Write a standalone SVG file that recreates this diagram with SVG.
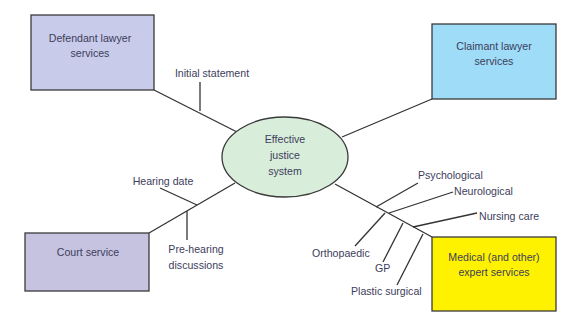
<svg xmlns="http://www.w3.org/2000/svg" width="570" height="322" viewBox="0 0 570 322">
<style>
.box{stroke:#3a3a3a;stroke-width:1.3}
.ln{stroke:#333;stroke-width:1.3;fill:none}
text{font-family:"Liberation Sans",Arial,sans-serif;font-size:10.6px;fill:#3d3d5c}
.c{text-anchor:middle}
</style>
<rect width="570" height="322" fill="#fff"/>
<g id="connectors">
<line class="ln" x1="154" y1="90" x2="237" y2="132"/>
<line class="ln" x1="200" y1="82" x2="200" y2="111"/>
<line class="ln" x1="432" y1="99" x2="342" y2="137"/>
<line class="ln" x1="149" y1="233" x2="235" y2="183"/>
<line class="ln" x1="160" y1="188" x2="197" y2="205"/>
<line class="ln" x1="187" y1="211" x2="187" y2="240"/>
<line class="ln" x1="335" y1="184" x2="432" y2="237"/>
<line class="ln" x1="376" y1="207" x2="418" y2="183"/>
<line class="ln" x1="389" y1="213" x2="453" y2="192"/>
<line class="ln" x1="413" y1="227" x2="477" y2="213"/>
<line class="ln" x1="385" y1="213" x2="355" y2="246"/>
<line class="ln" x1="403" y1="223" x2="383" y2="262"/>
<line class="ln" x1="423" y1="234" x2="397" y2="285"/>
<text class="c" x="212" y="77">Initial statement</text>
<text class="c" x="163" y="185">Hearing date</text>
<text class="c" x="196" y="253">Pre-hearing</text>
<text class="c" x="196" y="269">discussions</text>
<text x="418" y="179">Psychological</text>
<text x="454" y="195">Neurological</text>
<text x="479" y="220">Nursing care</text>
<text x="312" y="257">Orthopaedic</text>
<text x="375" y="272">GP</text>
<text x="351" y="295">Plastic surgical</text>
</g>
<g id="defendant">
<rect class="box" x="31" y="15" width="123" height="75" fill="#c8cbe9"/>
<text class="c" x="90" y="42">Defendant lawyer</text>
<text class="c" x="90" y="57">services</text>
</g>
<g id="claimant">
<rect class="box" x="432" y="24" width="124" height="75" fill="#9edcf7"/>
<text class="c" x="494" y="50">Claimant lawyer</text>
<text class="c" x="494" y="65">services</text>
</g>
<g id="court">
<rect class="box" x="25" y="233" width="124" height="58" fill="#c6c3e1"/>
<text class="c" x="88" y="256">Court service</text>
</g>
<g id="medical">
<rect class="box" x="432" y="237" width="124" height="74" fill="#fef200"/>
<text class="c" x="494" y="261">Medical (and other)</text>
<text class="c" x="494" y="276">expert services</text>
</g>
<g id="system">
<ellipse class="box" cx="285" cy="157" rx="63" ry="40" fill="#d9eddb"/>
<text class="c" x="285" y="143">Effective</text>
<text class="c" x="285" y="159">justice</text>
<text class="c" x="285" y="175">system</text>
</g>
</svg>
